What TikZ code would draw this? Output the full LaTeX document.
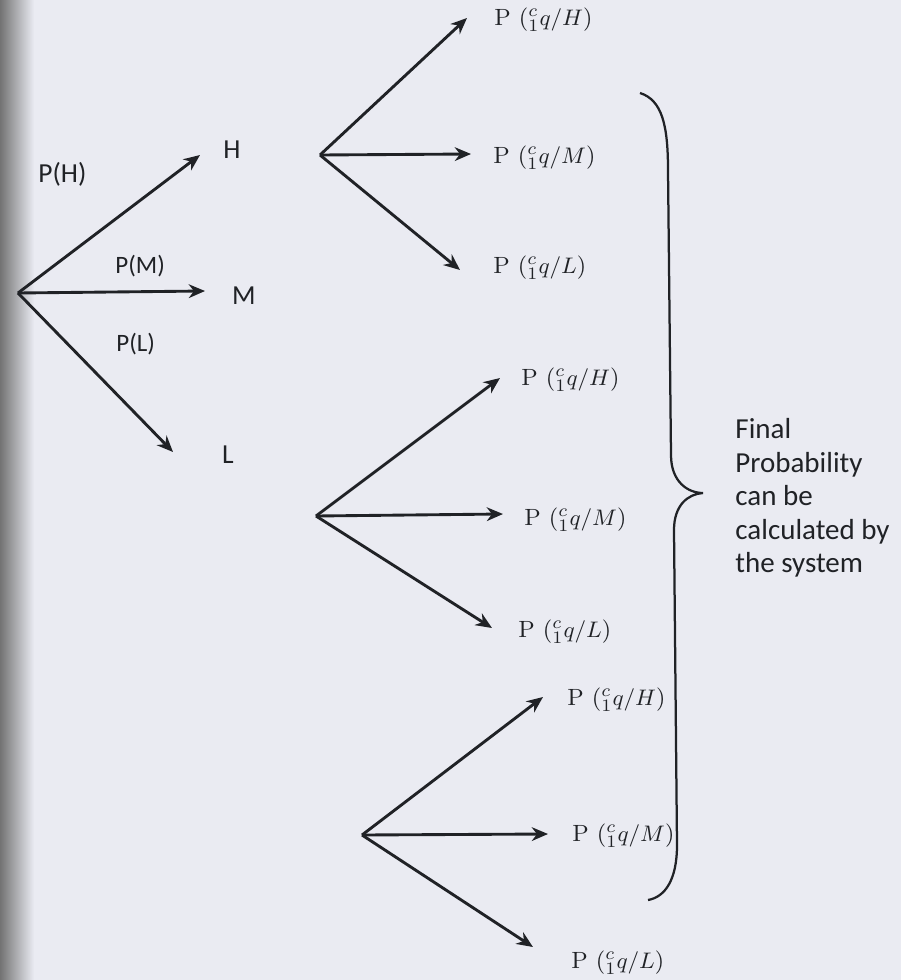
\documentclass[tikz,border=0pt]{standalone}
\usepackage{fontspec}
\newfontfamily\calibri{Carlito}
\usetikzlibrary{arrows.meta}
\definecolor{paper}{RGB}{234,235,242}
\definecolor{ink}{RGB}{32,34,38}

\begin{document}
\begin{tikzpicture}[x=0.4pt, y=-0.4pt, line width=1.15pt, color=ink,
      >={Stealth[length=6.5pt, width=5.5pt]},
      prob/.style={font=\calibri\fontsize{11}{13}\selectfont, inner sep=0pt},
      cond/.style={anchor=west, inner sep=0pt, font=\fontsize{9.4}{11}\selectfont}]
      \fill[paper] (0,0) rectangle (901,980);
      \shade[left color=black!55, right color=paper] (0,0) rectangle (34,980);
      \useasboundingbox (0,0) rectangle (901,980);

      \begin{scope}[name prefix = first-]
         \coordinate (root) at (18, 293);
         \node[prob] (H) at (232, 150) {H};
         \node[prob] (M) at (244, 296) {M};
         \node[prob] (L) at (228, 455) {L};
         \node[prob, anchor=west] (pH) at (37, 174) {P(H)};
         \node[prob, anchor=west, font=\calibri\fontsize{10}{12}\selectfont] (pM) at (114, 266) {P(M)};
         \node[prob, anchor=west, font=\calibri\fontsize{10}{12}\selectfont] (pL) at (115, 344) {P(L)};
      \end{scope}

      \begin{scope}[name prefix = high-]
         \coordinate (root) at (320, 155);
         \node[cond] (H) at (493, 20) {P (${}^{c}_{1}q/H$)};
         \node[cond] (M) at (492, 158) {P (${}^{c}_{1}q/M$)};
         \node[cond] (L) at (492, 268) {P (${}^{c}_{1}q/L$)};
      \end{scope}

      \begin{scope}[name prefix = mid-]
         \coordinate (root) at (316, 516);
         \node[cond] (H) at (520, 380) {P (${}^{c}_{1}q/H$)};
         \node[cond] (M) at (523, 520) {P (${}^{c}_{1}q/M$)};
         \node[cond] (L) at (517, 632) {P (${}^{c}_{1}q/L$)};
      \end{scope}

      \begin{scope}[name prefix = low-]
         \coordinate (root) at (362, 835);
         \node[cond] (H) at (566, 700) {P (${}^{c}_{1}q/H$)};
         \node[cond] (M) at (571, 836) {P (${}^{c}_{1}q/M$)};
         \node[cond] (L) at (570, 963) {P (${}^{c}_{1}q/L$)};
      \end{scope}

      \begin{scope}[name prefix = tip-]
         \coordinate (H) at (200, 155);
         \coordinate (M) at (205, 291);
         \coordinate (L) at (173, 452);
         \coordinate (high-H) at (467, 18);
         \coordinate (high-M) at (471, 154);
         \coordinate (high-L) at (460, 270);
         \coordinate (mid-H) at (500, 378);
         \coordinate (mid-M) at (503, 514);
         \coordinate (mid-L) at (492, 628);
         \coordinate (low-H) at (543, 697);
         \coordinate (low-M) at (548, 834);
         \coordinate (low-L) at (533, 947);
      \end{scope}

      \begin{scope}
         \draw[->] (first-root) -- (tip-H);
         \draw[->] (first-root) -- (tip-M);
         \draw[->] (first-root) -- (tip-L);
         \draw[->] (high-root) -- (tip-high-H);
         \draw[->] (high-root) -- (tip-high-M);
         \draw[->] (high-root) -- (tip-high-L);
         \draw[->] (mid-root) -- (tip-mid-H);
         \draw[->] (mid-root) -- (tip-mid-M);
         \draw[->] (mid-root) -- (tip-mid-L);
         \draw[->] (low-root) -- (tip-low-H);
         \draw[->] (low-root) -- (tip-low-M);
         \draw[->] (low-root) -- (tip-low-L);
      \end{scope}

      \draw[line width=0.9pt] (640, 93) .. controls (662, 100) and (668, 125) .. (668, 170)
         -- (671, 455) .. controls (671, 482) and (688, 493) .. (703, 493)
         .. controls (688, 494) and (674, 505) .. (674, 530)
         -- (677, 845) .. controls (677, 880) and (665, 897) .. (648, 900);

      \node[font=\calibri\fontsize{11.6}{13.4}\selectfont, align=left, anchor=west, inner sep=0pt]
         (result) at (734, 498) {Final\\Probability\\can be\\calculated by\\the system};
   \end{tikzpicture}
\end{document}
